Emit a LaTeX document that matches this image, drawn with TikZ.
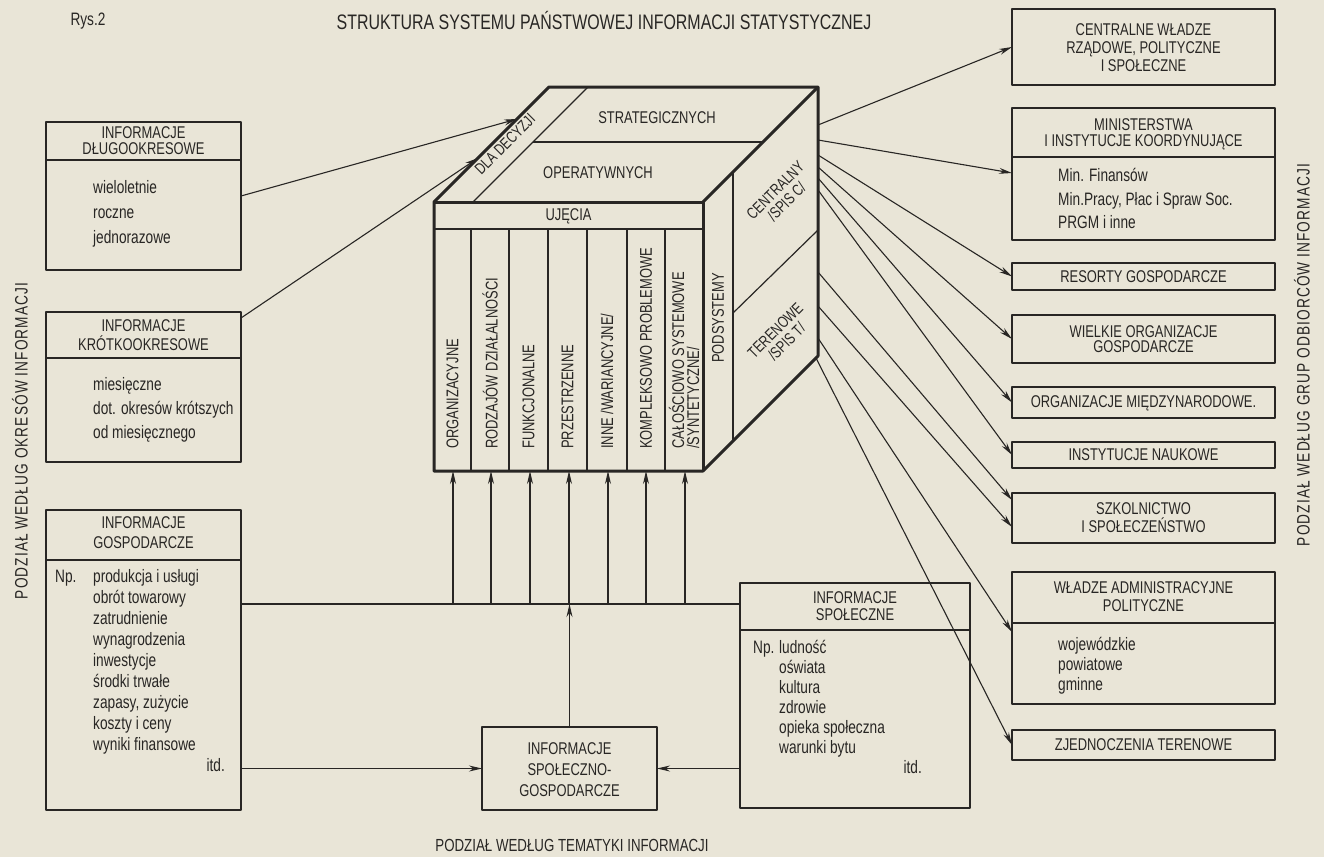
\documentclass[tikz,border=0pt]{standalone}
\usepackage{fontspec}
\setmainfont{Liberation Sans}[FakeStretch=0.76]
\newfontfamily\sidefont{Liberation Sans}[FakeStretch=0.76,LetterSpace=6]
\usetikzlibrary{arrows.meta}
\definecolor{paper}{RGB}{233,229,215}
\definecolor{ink}{RGB}{40,38,36}
\begin{document}
\begin{tikzpicture}[x=1pt,y=-1pt,line join=round,
  every node/.style={text=ink,inner sep=0pt},
  box/.style={draw=ink,line width=1.7pt,outer sep=0pt,anchor=north west},
  divline/.style={draw=ink,line width=1.7pt},
  hd/.style={align=center},
  bt/.style={font=\fontsize{18}{20}\selectfont,anchor=base west},
  btr/.style={font=\fontsize{18}{20}\selectfont,anchor=base east},
  cubeline/.style={draw=ink,line width=3pt},
  innerline/.style={draw=ink,line width=1.2pt},
  con/.style={draw=ink,line width=1.1pt},
  arr/.style={con,-{Stealth[length=13pt,width=6pt]}},
  col/.style={font=\fontsize{17}{15}\selectfont,rotate=90,anchor=west,align=left},
  side/.style={font=\sidefont\fontsize{18}{18}\selectfont,rotate=90}]
\fill[paper] (0,0) rectangle (1324,857);
\useasboundingbox (0,0) rectangle (1324,857);

% title
\node[font=\fontsize{18}{18}\selectfont] (rys) at (88,21) {Rys.2};
\node[font=\fontsize{21}{21}\selectfont] (title) at (604,20) {STRUKTURA SYSTEMU PAŃSTWOWEJ INFORMACJI STATYSTYCZNEJ};

% side labels
\node[side] (lside) at (20,441) {PODZIAŁ WEDŁUG OKRESÓW INFORMACJI};
\node[side] (rside) at (1302,355) {PODZIAŁ WEDŁUG GRUP ODBIORCÓW INFORMACJI};
\node[font=\fontsize{17.5}{17}\selectfont] (bottom) at (572,845) {PODZIAŁ WEDŁUG TEMATYKI INFORMACJI};

% ---------- left boxes
\node[box,minimum width=195,minimum height=148] (b1) at (46,122) {};
\draw[divline] (46,160) -- (241,160);
\node[hd,font=\fontsize{17}{16}\selectfont] (b1h) at (143.5,141) {INFORMACJE\\DŁUGOOKRESOWE};
\node[bt] (b1a) at (93,193) {wieloletnie};
\node[bt] (b1b) at (93,218) {roczne};
\node[bt] (b1c) at (93,243) {jednorazowe};

\node[box,minimum width=195,minimum height=150] (b2) at (46,312) {};
\draw[divline] (46,358) -- (241,358);
\node[hd,font=\fontsize{17}{19}\selectfont] (b2h) at (143.5,335) {INFORMACJE\\KRÓTKOOKRESOWE};
\node[bt] (b2a) at (93,390) {miesięczne};
\node[bt] (b2b) at (93,414) {dot. okresów krótszych};
\node[bt] (b2c) at (93,438) {od miesięcznego};

\node[box,minimum width=195,minimum height=300] (b3) at (46,510) {};
\draw[divline] (46,560) -- (241,560);
\node[hd,font=\fontsize{17}{20}\selectfont] (b3h) at (143.5,533) {INFORMACJE\\GOSPODARCZE};
\node[bt] (b3np) at (55,582) {Np.};
\node[bt] (b3a) at (93,582) {produkcja i usługi};
\node[bt] (b3b) at (93,603) {obrót towarowy};
\node[bt] (b3c) at (93,624) {zatrudnienie};
\node[bt] (b3d) at (93,645) {wynagrodzenia};
\node[bt] (b3e) at (93,666) {inwestycje};
\node[bt] (b3f) at (93,687) {środki trwałe};
\node[bt] (b3g) at (93,708) {zapasy, zużycie};
\node[bt] (b3h2) at (93,729) {koszty i ceny};
\node[bt] (b3i) at (93,750) {wyniki finansowe};
\node[btr] (b3j) at (225,771) {itd.};

% ---------- bottom boxes
\node[box,minimum width=175,minimum height=83] (sg) at (482,727) {};
\node[hd,font=\fontsize{17}{21}\selectfont] (sgt) at (569.5,770) {INFORMACJE\\SPOŁECZNO-\\GOSPODARCZE};

\node[box,minimum width=230,minimum height=225] (sp) at (740,583) {};
\draw[divline] (740,630) -- (970,630);
\node[hd,font=\fontsize{17}{17}\selectfont] (sph) at (855,606) {INFORMACJE\\SPOŁECZNE};
\node[bt] (spnp) at (753,653) {Np.};
\node[bt] (spa) at (779,653) {ludność};
\node[bt] (spb) at (779,673) {oświata};
\node[bt] (spc) at (779,693) {kultura};
\node[bt] (spd) at (779,713) {zdrowie};
\node[bt] (spe) at (779,733) {opieka społeczna};
\node[bt] (spf) at (779,753) {warunki bytu};
\node[btr] (spg) at (922,773) {itd.};

% ---------- right boxes
\node[box,minimum width=263,minimum height=76] (r1) at (1012,9) {};
\node[hd,font=\fontsize{17}{18}\selectfont] (r1t) at (1143.5,48) {CENTRALNE WŁADZE\\RZĄDOWE, POLITYCZNE\\I SPOŁECZNE};
\node[box,minimum width=263,minimum height=132] (r2) at (1012,108) {};
\draw[divline] (1012,157) -- (1275,157);
\node[hd,font=\fontsize{17}{16}\selectfont] (r2t) at (1143.5,134) {MINISTERSTWA\\I INSTYTUCJE KOORDYNUJĄCE};
\node[bt] (r2a) at (1058,181) {Min. Finansów};
\node[bt] (r2b) at (1058,205) {Min.Pracy, Płac i Spraw Soc.};
\node[bt] (r2c) at (1058,228) {PRGM i inne};
\node[box,minimum width=263,minimum height=27] (r3) at (1012,263) {};
\node[font=\fontsize{17}{17}\selectfont] (r3t) at (1143.5,277) {RESORTY GOSPODARCZE};
\node[box,minimum width=263,minimum height=48] (r4) at (1012,315) {};
\node[hd,font=\fontsize{17}{15}\selectfont] (r4t) at (1143.5,339) {WIELKIE ORGANIZACJE\\GOSPODARCZE};
\node[box,minimum width=263,minimum height=31] (r5) at (1012,387) {};
\node[font=\fontsize{17}{17}\selectfont] (r5t) at (1143.5,403) {ORGANIZACJE MIĘDZYNARODOWE.};
\node[box,minimum width=263,minimum height=26] (r6) at (1012,442) {};
\node[font=\fontsize{17}{17}\selectfont] (r6t) at (1143.5,455) {INSTYTUCJE NAUKOWE};
\node[box,minimum width=263,minimum height=50] (r7) at (1012,493) {};
\node[hd,font=\fontsize{17}{18}\selectfont] (r7t) at (1143.5,518) {SZKOLNICTWO\\I SPOŁECZEŃSTWO};
\node[box,minimum width=263,minimum height=132] (r8) at (1012,572) {};
\draw[divline] (1012,623) -- (1275,623);
\node[hd,font=\fontsize{17}{18}\selectfont] (r8t) at (1143.5,597) {WŁADZE ADMINISTRACYJNE\\POLITYCZNE};
\node[bt] (r8a) at (1058,650) {wojewódzkie};
\node[bt] (r8b) at (1058,670) {powiatowe};
\node[bt] (r8c) at (1058,690) {gminne};
\node[box,minimum width=263,minimum height=30] (r9) at (1012,730) {};
\node[font=\fontsize{17}{17}\selectfont] (r9t) at (1143.5,745) {ZJEDNOCZENIA TERENOWE};

% ---------- cube
\coordinate (F1) at (434,202); \coordinate (F2) at (703,202);
\coordinate (F3) at (703,471); \coordinate (F4) at (434,471);
\coordinate (B1) at (549,87);  \coordinate (B2) at (818,87);
\coordinate (B3) at (818,356);
\draw[innerline] (434,229) -- (703,229);
\foreach \x in {471,509,548,587,627,665} \draw[innerline] (\x,229) -- (\x,471);
\draw[innerline] (473,202) -- (588,87);
\draw[innerline] (533,142) -- (763,142);
\draw[innerline] (733,172) -- (733,441);
\draw[innerline] (733,313) -- (818,230);
\draw[cubeline] (F4) -- (F1) -- (B1) -- (B2) -- (B3) -- (F3) -- cycle;
\draw[cubeline] (F1) -- (F2) -- (F3);
\draw[cubeline] (F2) -- (B2);

\node[font=\fontsize{17}{17}\selectfont] (uj) at (568.5,216) {UJĘCIA};
\node[font=\fontsize{17}{17}\selectfont] (str) at (657,118) {STRATEGICZNYCH};
\node[font=\fontsize{17}{17}\selectfont] (ope) at (598,173) {OPERATYWNYCH};
\node[font=\fontsize{16}{16}\selectfont,rotate=45] (dla) at (505,144) {DLA DECYZJI};
\node[font=\fontsize{17}{17}\selectfont,rotate=90] (pods) at (718,318) {PODSYSTEMY};
\node[hd,font=\fontsize{16}{16}\selectfont,rotate=45] (cen) at (781,196) {CENTRALNY\\/SPIS C/};
\node[hd,font=\fontsize{16}{16}\selectfont,rotate=45] (ter) at (781,336) {TERENOWE\\/SPIS T/};

\node[col] (k1) at (452.5,449) {ORGANIZACYJNE};
\node[col] (k2) at (490,449) {RODZAJÓW DZIAŁALNOŚCI};
\node[col] (k3) at (528.5,449) {FUNKCJONALNE};
\node[col] (k4) at (567.5,449) {PRZESTRZENNE};
\node[col] (k5) at (607,449) {INNE /WARIANCYJNE/};
\node[col] (k6) at (646,449) {KOMPLEKSOWO PROBLEMOWE};
\node[col] (k7) at (684,449) {CAŁOŚCIOWO SYSTEMOWE\\/SYNTETYCZNE/};

% ---------- connectors
\coordinate (tA) at (517,119);
\coordinate (tB) at (478,158);
\draw[arr] (b1.east) -- (tA);
\draw[arr] ([yshift=-6pt]b2.north east) -- (tB);

\coordinate (bus) at (740,604);
\draw[con] (b3.east |- bus) -- (sp.west |- bus);
\foreach \x in {453,491,530,569,608,646,685} {
  \coordinate (cb) at (\x,471);
  \draw[arr] (cb |- bus) -- (cb);
}
\draw[arr] (sg.north) -- (sg.north |- bus);
\draw[arr] (b3.east |- sg.west) -- (sg.west);
\draw[arr] (sp.west |- sg.east) -- (sg.east);

\coordinate (c1) at (818,125);
\coordinate (c2) at (818,140);
\coordinate (c3) at (818,155);
\coordinate (c4) at (818,167);
\coordinate (c5) at (818,178);
\coordinate (c6) at (818,190);
\coordinate (c7) at (818,272);
\coordinate (c8) at (818,306);
\coordinate (c9) at (818,338);
\coordinate (c10) at (816,358);
\draw[arr] (c1) -- (r1.west);
\draw[arr] (c2) -- ([yshift=-65pt]r2.north west);
\draw[arr] (c3) -- (r3.west);
\draw[arr] (c4) -- (r4.west);
\draw[arr] (c5) -- (r5.west);
\draw[arr] (c6) -- (r6.west);
\draw[arr] (c7) -- ([yshift=-7pt]r7.north west);
\draw[arr] (c8) -- ([yshift=-34pt]r7.north west);
\draw[arr] (c9) -- ([yshift=-60pt]r8.north west);
\draw[arr] (c10) -- (r9.west);
\end{tikzpicture}
\end{document}
